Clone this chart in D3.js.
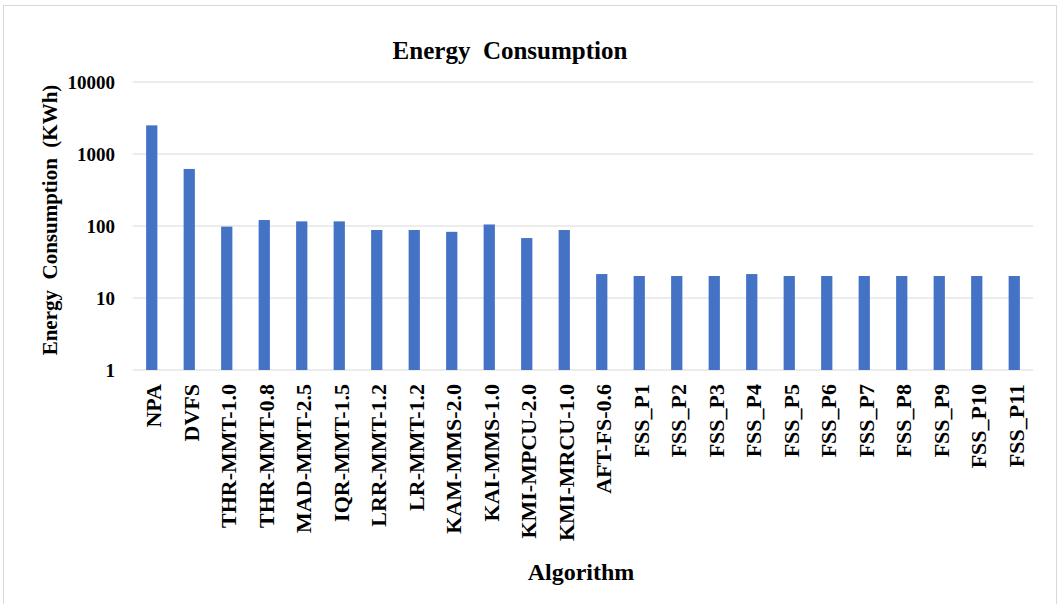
<!DOCTYPE html>
<html>
<head>
<meta charset="utf-8">
<script src="https://cdn.jsdelivr.net/npm/d3@7"></script>
<style>
  body { margin: 0; background: #fff; }
  text { font-family: "Liberation Serif", "Times New Roman", serif; font-weight: bold; fill: #000; white-space: pre; }
</style>
</head>
<body>
<div id="container"></div>
<script>
(function(){
  // data
  var algorithms = ["NPA","DVFS","THR-MMT-1.0","THR-MMT-0.8","MAD-MMT-2.5","IQR-MMT-1.5","LRR-MMT-1.2","LR-MMT-1.2","KAM-MMS-2.0","KAI-MMS-1.0","KMI-MPCU-2.0","KMI-MRCU-1.0","AFT-FS-0.6","FSS_P1","FSS_P2","FSS_P3","FSS_P4","FSS_P5","FSS_P6","FSS_P7","FSS_P8","FSS_P9","FSS_P10","FSS_P11"]
  var energy = [2500,620,98,121,116,116,88,88,83,105,68,88,21.5,20.2,20.2,20.2,21.5,20.2,20.2,20.2,20.2,20.2,20.2,20.2]
  var yTicks = [1,10,100,1000,10000]

  var width = 1059, height = 604
  var margin = { top: 82, right: 26, bottom: 234, left: 133 }

  var svg = d3.select("#container")
    .append("svg")
      .attr("width", width)
      .attr("height", height)

  // frame (open at the bottom, like the cropped screenshot)
  svg.append("rect")
    .attr("x", 3.5).attr("y", 5.5)
    .attr("width", 1053).attr("height", 610)
    .attr("fill", "none")
    .attr("stroke", "#d9d9d9")

  var x = d3.scaleBand()
    .domain(algorithms)
    .range([margin.left, width - margin.right])
    .paddingInner(0.7)
    .paddingOuter(0.35)

  var y = d3.scaleLog()
    .domain([1, 10000])
    .range([height - margin.bottom, margin.top])

  // gridlines
  svg.append("g")
    .selectAll("line")
    .data(yTicks)
    .enter().append("line")
      .attr("x1", margin.left)
      .attr("x2", width - margin.right)
      .attr("y1", function(d){ return y(d) })
      .attr("y2", function(d){ return y(d) })
      .attr("stroke", "#d9d9d9")
      .attr("stroke-width", 1.2)

  // bars
  svg.append("g")
    .selectAll("rect")
    .data(algorithms)
    .enter().append("rect")
      .attr("x", function(d){ return x(d) })
      .attr("width", x.bandwidth())
      .attr("y", function(d, i){ return y(energy[i]) })
      .attr("height", function(d, i){ return y(1) - y(energy[i]) })
      .attr("fill", "#4472c4")

  // y axis
  var yAxis = d3.axisLeft(y)
    .tickValues(yTicks)
    .tickFormat(d3.format("d"))
    .tickSize(0)
    .tickPadding(18)

  svg.append("g")
    .attr("transform", "translate(" + margin.left + ",0)")
    .call(yAxis)
    .call(function(g){ g.select(".domain").remove() })
    .selectAll("text")
      .style("font-family", "Liberation Serif")
      .style("font-weight", "bold")
      .style("font-size", "19px")

  // x axis labels
  var xAxis = d3.axisBottom(x).tickSize(0).tickPadding(0)
  svg.append("g")
    .attr("transform", "translate(0," + y(1) + ")")
    .call(xAxis)
    .call(function(g){ g.select(".domain").remove() })
    .selectAll("text")
      .style("font-family", "Liberation Serif")
      .style("font-weight", "bold")
      .style("font-size", "22px")
      .attr("text-anchor", "end")
      .attr("dy", "0.33em")
      .attr("transform", "translate(2,14) rotate(-90)")
      .attr("x", 0).attr("y", 0)

  // titles
  svg.append("text")
    .attr("x", 510).attr("y", 59)
    .attr("text-anchor", "middle")
    .style("font-size", "25px")
    .text("Energy  Consumption")

  svg.append("text")
    .attr("x", 581).attr("y", 580)
    .attr("text-anchor", "middle")
    .style("font-size", "24px")
    .text("Algorithm")

  svg.append("text")
    .attr("transform", "translate(57,220) rotate(-90)")
    .attr("text-anchor", "middle")
    .style("font-size", "21px")
    .text("Energy  Consumption  (KWh)")
})()
</script>
</body>
</html>
